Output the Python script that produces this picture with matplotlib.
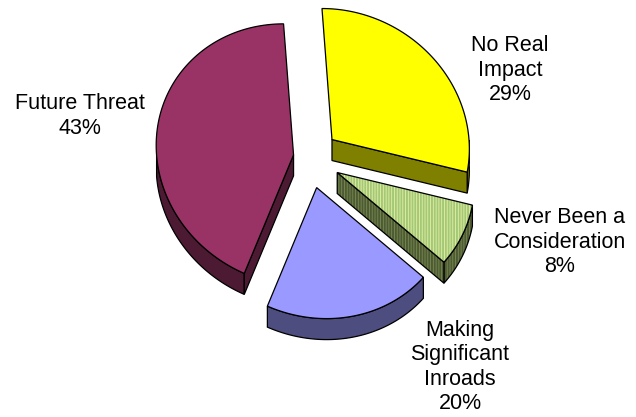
import numpy as np
import matplotlib
matplotlib.use("Agg")
import matplotlib.pyplot as plt
from matplotlib.patches import Polygon

# ---- data ----
categories = ["No Real\nImpact", "Never Been a\nConsideration", "Making\nSignificant\nInroads", "Future Threat"]
values = [29, 8, 20, 43]
explode = [0.23, 0.23, 0.23, 0.11]
top_colors = ["#FFFF00", "#E6F0A2", "#9999FF", "#993366"]
side_colors = ["#808000", "#7A8C50", "#4D4D80", "#4C1A33"]
hatch_top = [None, "#A3C878", None, None]
hatch_side = [None, "#4D5A33", None, None]
label_pos = [(510, 70), (560, 242), (460, 367), (80, 116)]

# ---- layout (pixel space) ----
W, H = 636, 417
CX, CY = 308.5, 158
A, B, SH = 137, 131, -10
DEPTH = 21

plt.rcParams["hatch.linewidth"] = 1.4

fig = plt.figure(figsize=(W / 100, H / 100), dpi=100)
ax = fig.add_axes([0, 0, 1, 1])
ax.set_xlim(0, W)
ax.set_ylim(H, 0)
ax.axis("off")


def pt(theta_deg, r, c):
    t = np.radians(theta_deg)
    return (c[0] + r * (A * np.cos(t) + SH * np.sin(t)), c[1] - r * B * np.sin(t))


def add_poly(pts, face, hatch_col, edge="black", lw=0.9, z=1):
    if hatch_col is not None:
        ax.add_patch(Polygon(pts, closed=True, facecolor=face, edgecolor=hatch_col,
                             hatch="||||||", linewidth=0, zorder=z))
        ax.add_patch(Polygon(pts, closed=True, facecolor="none", edgecolor=edge,
                             linewidth=lw, zorder=z))
    else:
        ax.add_patch(Polygon(pts, closed=True, facecolor=face, edgecolor=edge,
                             linewidth=lw, zorder=z))


total = float(sum(values))
starts = []
ang = 90.0
for v in values:
    starts.append((ang, ang - 360.0 * v / total))
    ang -= 360.0 * v / total

# drawing order back to front
order = [0, 3, 1, 2]
for z, i in enumerate(order):
    t1, t2 = starts[i]
    mid = (t1 + t2) / 2
    c = pt(mid, explode[i], (CX, CY))
    zz = 2 + z * 3
    thetas = np.linspace(t1, t2, 200)
    # rim: visible where sin(theta) < 0
    vis = np.sin(np.radians(thetas)) < 0
    if vis.any():
        th = thetas[vis]
        top = [pt(t, 1, c) for t in th]
        bot = [(x, y + DEPTH) for x, y in top][::-1]
        add_poly(top + bot, side_colors[i], hatch_side[i], z=zz)
    # radial faces
    for t, visible in ((t1, np.cos(np.radians(t1)) < -1e-9), (t2, np.cos(np.radians(t2)) > 1e-9)):
        if visible:
            p = pt(t, 1, c)
            quad = [c, p, (p[0], p[1] + DEPTH), (c[0], c[1] + DEPTH)]
            add_poly(quad, side_colors[i], hatch_side[i], z=zz + 1)
    # top face
    arc = [pt(t, 1, c) for t in thetas]
    add_poly([c] + arc, top_colors[i], hatch_top[i], z=zz + 2)

for i, cat in enumerate(categories):
    ax.text(label_pos[i][0], label_pos[i][1], f"{cat}\n{values[i]}%",
            ha="center", va="center", fontsize=15.5, family="Liberation Sans",
            linespacing=1.2, color="black", zorder=50)

fig.savefig("out.png", dpi=100)
